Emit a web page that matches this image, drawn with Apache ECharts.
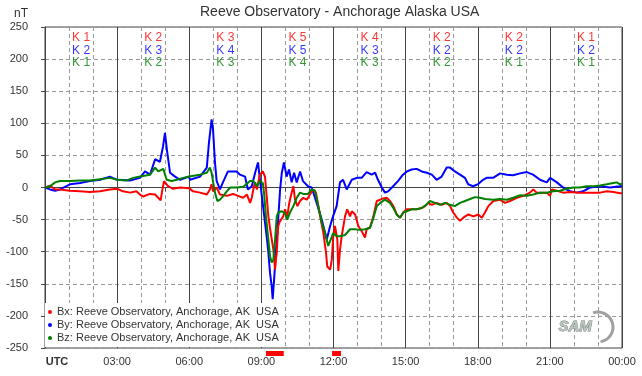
<!DOCTYPE html>
<html><head><meta charset="utf-8">
<script src="https://cdn.jsdelivr.net/npm/echarts@6/dist/echarts.min.js"></script>
<style>html,body{margin:0;padding:0;background:#fff}#c{width:642px;height:376px}</style>
</head><body><div id="c"></div>
<script>
// ---- data (hours UTC, nT) ----
const titleText = 'Reeve Observatory - Anchorage Alaska USA';
const seriesNames = ['Bx: Reeve Observatory, Anchorage, AK  USA','By: Reeve Observatory, Anchorage, AK  USA','Bz: Reeve Observatory, Anchorage, AK  USA'];
const yTicks = { min: -250, max: 250, step: 50 };
const xTicks = { min: 0, max: 24, step: 3 };
const kBx = [1,2,3,5,4,2,2,1];
const kBy = [2,3,4,5,3,2,2,2];
const kBz = [1,2,3,4,3,2,1,1];
const stormSpans = [[9.19, 9.93],[11.94, 12.31]];
const zeroLine = [[0,0],[24,0]];

const bx = [[0,0],[0.21,3],[0.42,-3],[0.62,-3],[1.04,-5],[1.46,-6],[1.87,-7],[2.29,-6],[2.70,-3],[3.00,-2],[3.24,-6],[3.54,-8],[3.80,-6],[3.95,-11],[4.08,-14],[4.37,-10],[4.58,-11],[4.71,-16],[4.81,-20],[4.87,-6],[4.95,10],[5.03,8],[5.12,2],[5.32,-2],[5.62,0],[5.99,-1],[6.16,-6],[6.45,-8],[6.73,-11],[6.86,-3],[6.93,5],[6.99,-6],[7.14,0],[7.28,-11],[7.56,-13],[7.82,-10],[8.03,-13],[8.24,-16],[8.40,-11],[8.53,-24],[8.60,-16],[8.69,2],[8.74,8],[8.81,-3],[8.94,20],[9.06,25],[9.15,17],[9.22,-13],[9.29,-45],[9.39,-71],[9.50,-97],[9.57,-128],[9.61,-110],[9.64,-102],[9.70,-60],[9.78,-52],[9.91,-45],[9.98,-34],[10.08,-45],[10.16,-24],[10.26,-8],[10.33,2],[10.40,-19],[10.50,-29],[10.61,-21],[10.74,-16],[10.89,-19],[11.02,-11],[11.16,-3],[11.27,-8],[11.37,-29],[11.47,-50],[11.58,-71],[11.69,-102],[11.74,-123],[11.86,-128],[11.93,-112],[11.99,-76],[12.06,-60],[12.16,-81],[12.20,-130],[12.27,-97],[12.34,-76],[12.48,-45],[12.57,-34],[12.69,-45],[12.76,-37],[12.90,-42],[13.03,-60],[13.17,-68],[13.31,-78],[13.38,-65],[13.52,-62],[13.66,-45],[13.80,-21],[13.94,-19],[14.07,-17],[14.21,-16],[14.35,-21],[14.49,-29],[14.63,-42],[14.77,-47],[14.90,-39],[15.05,-34],[15.25,-34],[15.46,-34],[15.67,-32],[15.81,-29],[15.94,-24],[16.09,-27],[16.29,-24],[16.50,-27],[16.71,-24],[16.85,-29],[16.98,-39],[17.13,-47],[17.26,-52],[17.40,-47],[17.61,-42],[17.82,-45],[18.02,-42],[18.17,-47],[18.30,-39],[18.44,-29],[18.65,-21],[18.93,-19],[19.13,-24],[19.34,-21],[19.62,-16],[19.90,-13],[20.17,-8],[20.31,-3],[20.45,-8],[20.73,-8],[20.87,-8],[21.01,-13],[21.08,-3],[21.29,-5],[21.56,-8],[21.84,-7],[22.25,-8],[22.67,-8],[23.09,-8],[23.37,-6],[23.64,-7],[23.92,-9],[24,-9]];

const by = [[0,0],[0.21,-3],[0.42,-5],[0.62,-3],[1.04,5],[1.46,7],[1.87,10],[2.29,12],[2.70,17],[3.00,12],[3.54,11],[3.95,15],[4.16,25],[4.37,20],[4.58,44],[4.78,40],[4.91,64],[4.99,85],[5.07,59],[5.20,23],[5.41,17],[5.62,12],[5.99,17],[6.03,12],[6.45,17],[6.73,31],[6.82,70],[6.93,106],[6.99,90],[7.07,39],[7.14,10],[7.28,-3],[7.40,8],[7.61,25],[7.97,25],[8.11,20],[8.32,17],[8.44,-3],[8.60,2],[8.74,23],[8.86,39],[8.94,12],[9.07,-29],[9.22,-76],[9.28,-97],[9.36,-133],[9.43,-154],[9.47,-174],[9.53,-143],[9.61,-97],[9.69,-55],[9.78,-3],[9.85,23],[9.94,39],[10.05,17],[10.15,28],[10.26,8],[10.36,23],[10.47,8],[10.61,25],[10.73,10],[10.94,2],[11.09,0],[11.30,-24],[11.51,-50],[11.72,-81],[11.86,-60],[11.98,-45],[12.13,-29],[12.27,8],[12.40,12],[12.55,-3],[12.76,12],[12.97,15],[13.17,15],[13.38,24],[13.59,20],[13.73,23],[13.85,12],[14.01,0],[14.14,-8],[14.27,-6],[14.48,2],[14.68,10],[14.89,20],[15.05,25],[15.25,28],[15.46,29],[15.67,25],[15.88,23],[16.09,20],[16.29,12],[16.50,17],[16.71,31],[16.85,31],[17.05,25],[17.26,20],[17.47,15],[17.60,5],[17.80,2],[18.01,5],[18.22,12],[18.37,15],[18.64,15],[18.93,22],[19.21,20],[19.47,19],[19.76,22],[20.04,24],[20.30,20],[20.59,12],[20.87,8],[21.01,15],[21.29,8],[21.55,0],[21.84,-6],[22.12,-8],[22.38,-6],[22.67,0],[23.09,2],[23.50,0],[23.92,2],[24,3]];

const bz = [[0,0],[0.21,2],[0.42,8],[0.62,10],[1.04,10],[1.46,11],[1.87,11],[2.29,13],[2.70,15],[3.00,12],[3.40,11],[3.67,15],[3.95,17],[4.37,20],[4.58,31],[4.71,25],[4.92,29],[5.06,12],[5.27,10],[5.48,12],[5.75,15],[5.99,17],[6.45,20],[6.73,23],[6.86,31],[6.93,23],[7.00,7],[7.07,-8],[7.17,-21],[7.28,-19],[7.42,-13],[7.56,-6],[7.70,0],[7.97,0],[8.25,1],[8.53,10],[8.65,10],[8.74,7],[8.81,2],[8.94,10],[9.06,7],[9.11,-8],[9.19,-45],[9.29,-81],[9.36,-107],[9.43,-117],[9.50,-112],[9.57,-81],[9.64,-45],[9.70,-39],[9.85,-37],[9.98,-40],[10.08,-50],[10.19,-39],[10.33,-29],[10.47,-16],[10.61,-8],[10.74,-10],[10.94,-10],[11.09,-3],[11.23,-5],[11.37,-29],[11.51,-55],[11.65,-71],[11.78,-91],[11.86,-91],[11.99,-71],[12.13,-76],[12.27,-76],[12.48,-74],[12.69,-65],[12.90,-65],[13.10,-66],[13.31,-65],[13.52,-63],[13.66,-47],[13.80,-29],[13.94,-24],[14.14,-19],[14.35,-24],[14.49,-32],[14.63,-42],[14.77,-47],[14.90,-39],[15.05,-37],[15.25,-34],[15.46,-34],[15.67,-32],[15.88,-26],[16.01,-21],[16.22,-24],[16.43,-27],[16.64,-24],[16.85,-27],[17.05,-29],[17.26,-24],[17.47,-21],[17.68,-18],[17.89,-15],[18.09,-16],[18.30,-18],[18.37,-21],[18.65,-19],[18.93,-18],[19.21,-19],[19.48,-16],[19.76,-12],[20.04,-13],[20.31,-11],[20.59,-8],[20.87,-8],[21.14,-6],[21.42,-5],[21.70,-2],[21.98,0],[22.25,0],[22.53,2],[22.81,2],[23.09,3],[23.37,5],[23.64,7],[23.78,8],[23.92,5],[24,6]];

// ---- chart ----
const FONT = 'Liberation Sans, Arial, sans-serif';
const RED = '#ff0000', BLUE = '#0000ff', GREEN = '#008000';
const kRows = [[kBx, RED, 234],[kBy, BLUE, 213],[kBz, GREEN, 194]];

function pad2(n){ return (n < 10 ? '0' : '') + n; }

const chart = echarts.init(document.getElementById('c'), null, {renderer:'canvas'});
const kSeries = kRows.map(([arr, col, yv]) => ({
  type: 'scatter', silent: true, symbolSize: 0, z: 5,
  data: arr.map((k, i) => [xTicks.step * i + xTicks.step / 2, yv, k]),
  label: { show: true, position: 'inside', formatter: p => 'K ' + p.data[2],
           color: col, fontSize: 12, fontFamily: FONT }
}));

chart.setOption({
  animation: false,
  textStyle: { fontFamily: FONT },
  title: { text: titleText, left: 195, top: 0,
           textStyle: { fontSize: 14, fontWeight: 'normal', color: '#333', fontFamily: FONT } },
  grid: { left: 45, right: 20, top: 27, bottom: 28, show: true, borderColor: '#444', borderWidth: 1, backgroundColor: 'transparent' },
  legend: {
    data: seriesNames, orient: 'vertical', left: 45, top: 303,
    backgroundColor: '#fff', padding: [3, 6, 3, 3], itemGap: 1,
    icon: 'circle', itemWidth: 4, itemHeight: 4,
    textStyle: { fontSize: 11, color: '#333', lineHeight: 12, fontFamily: FONT },
    selectedMode: false
  },
  xAxis: {
    type: 'value', min: xTicks.min, max: xTicks.max, interval: xTicks.step,
    axisLine: { lineStyle: { color: '#444' } },
    axisTick: { length: 4, lineStyle: { color: '#444' } },
    minorTick: { show: true, splitNumber: 3, length: 4, lineStyle: { color: '#444' } },
    splitLine: { show: true, lineStyle: { color: '#444', width: 1 } },
    minorSplitLine: { show: true, lineStyle: { color: '#999', type: [4, 3] } },
    axisLabel: {
      color: '#333', fontSize: 11, margin: 8, fontFamily: FONT, showMinLabel: true, showMaxLabel: true,
      formatter: v => v === 0 ? '{u|UTC}' : pad2(v % 24) + ':00',
      rich: { u: { fontWeight: 'bold', fontSize: 11, color: '#333', padding: [0, 0, 0, 24], fontFamily: FONT } }
    }
  },
  yAxis: {
    type: 'value', min: yTicks.min, max: yTicks.max, interval: yTicks.step,
    axisLine: { show: true, lineStyle: { color: '#444' } },
    axisTick: { show: true, length: 4, lineStyle: { color: '#444' } },
    splitLine: { show: true, lineStyle: { color: '#999', type: [4, 3] } },
    axisLabel: { color: '#333', fontSize: 11, margin: 17, fontFamily: FONT }
  },
  graphic: [
    { type: 'text', left: 14, top: 8, style: { text: 'nT', fill: '#333', font: '12px ' + FONT } },
    { type: 'arc', shape: { cx: 598, cy: 327, r: 15, startAngle: -1.9, endAngle: 1.4 },
      style: { stroke: '#a0a0a0', lineWidth: 3, fill: null }, z: 10 },
    { type: 'text', left: 558, top: 319, z: 11,
      style: { text: 'SAM', font: 'italic bold 15px ' + FONT, fill: '#b8c8b8', stroke: '#707080', lineWidth: 0.8 } }
  ],
  series: [
    { type: 'line', data: zeroLine, silent: true, showSymbol: false, z: 1,
      lineStyle: { color: '#444', width: 1 } },
    { name: seriesNames[1], type: 'line', data: by, showSymbol: false, symbol: 'circle',
      color: BLUE, lineStyle: { color: BLUE, width: 2 } },
    { name: seriesNames[0], type: 'line', data: bx, showSymbol: false, symbol: 'circle',
      color: RED, lineStyle: { color: RED, width: 2 } },
    { name: seriesNames[2], type: 'line', data: bz, showSymbol: false, symbol: 'circle',
      color: GREEN, lineStyle: { color: GREEN, width: 2 } },
    {
      type: 'custom', silent: true, clip: false, z: 6,
      data: stormSpans,
      encode: { x: [0, 1] },
      renderItem: (params, api) => {
        const a = api.coord([api.value(0), yTicks.min]);
        const b = api.coord([api.value(1), yTicks.min]);
        return { type: 'rect', shape: { x: a[0], y: a[1] + 3, width: b[0] - a[0], height: 5 },
                 style: { fill: RED } };
      }
    },
    ...kSeries
  ]
});
</script></body></html>
